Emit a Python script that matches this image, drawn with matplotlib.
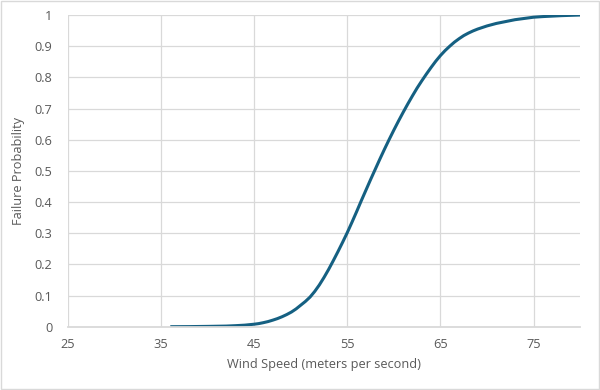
import matplotlib
matplotlib.use("Agg")
import matplotlib.pyplot as plt
from matplotlib.patches import Rectangle

wind_speed = [36, 38, 40, 42, 43, 44, 44.5, 45, 45.5, 46, 46.5, 47, 47.5, 48, 48.5, 49, 49.5,
              50, 50.5, 51, 51.5, 52, 52.5, 53, 53.5, 54, 54.5, 55, 55.5, 56, 56.5, 57, 57.5,
              58, 58.5, 59, 59.5, 60, 60.5, 61, 61.5, 62, 62.5, 63, 63.5, 64, 64.5, 65, 65.5,
              66, 66.5, 67, 67.5, 68, 68.5, 69, 69.5, 70, 71, 72, 73, 74, 75, 76, 78, 80]
failure_prob = [0.0, 0.0003, 0.001, 0.002, 0.0033, 0.005, 0.0065, 0.008, 0.010, 0.013, 0.0165,
                0.021, 0.026, 0.032, 0.039, 0.047, 0.057, 0.069, 0.081, 0.095, 0.113, 0.134,
                0.158, 0.184, 0.212, 0.241, 0.271, 0.302, 0.335, 0.369, 0.404, 0.438, 0.472,
                0.505, 0.538, 0.570, 0.601, 0.631, 0.660, 0.688, 0.715, 0.741, 0.766, 0.789,
                0.811, 0.832, 0.852, 0.870, 0.886, 0.900, 0.913, 0.924, 0.934, 0.942, 0.949,
                0.955, 0.960, 0.965, 0.973, 0.979, 0.985, 0.989, 0.993, 0.995, 0.998, 1.0]
x_ticks = [25, 35, 45, 55, 65, 75]
y_ticks = [0, 0.1, 0.2, 0.3, 0.4, 0.5, 0.6, 0.7, 0.8, 0.9, 1]
y_tick_labels = ["0", "0.1", "0.2", "0.3", "0.4", "0.5", "0.6", "0.7", "0.8", "0.9", "1"]

plt.rcParams['font.family'] = ['Open Sans', 'DejaVu Sans']
text_color = "#595959"
grid_color = "#d9d9d9"

fig = plt.figure(figsize=(6, 3.9), dpi=100)
ax = fig.add_axes([0.113, 0.1623, 0.854, 0.7992])

ax.plot(wind_speed, failure_prob, color="#156082", linewidth=2.2,
        solid_capstyle="butt", solid_joinstyle="round")

ax.set_xlim(25, 80)
ax.set_ylim(0, 1)
ax.set_xticks(x_ticks)
ax.set_yticks(y_ticks)
ax.set_yticklabels(y_tick_labels)
ax.grid(True, color=grid_color, linewidth=0.9)
ax.set_axisbelow(True)
for s in ["top", "right", "left"]:
    ax.spines[s].set_visible(False)
ax.spines["bottom"].set_color(grid_color)
ax.spines["bottom"].set_linewidth(1.3)
ax.tick_params(length=0, labelsize=9.2, labelcolor=text_color, pad=8)
ax.tick_params(axis="y", pad=11)

ax.set_xlabel("Wind Speed (meters per second)", fontsize=9.2, color=text_color, labelpad=5)
ax.set_ylabel("Failure Probability", fontsize=9.2, color=text_color, labelpad=7)

fig.patches.append(Rectangle((0.002, 0.003), 0.996, 0.994, transform=fig.transFigure,
                             fill=False, edgecolor="#d9d9d9", linewidth=1))

fig.savefig("out.png", dpi=100)
